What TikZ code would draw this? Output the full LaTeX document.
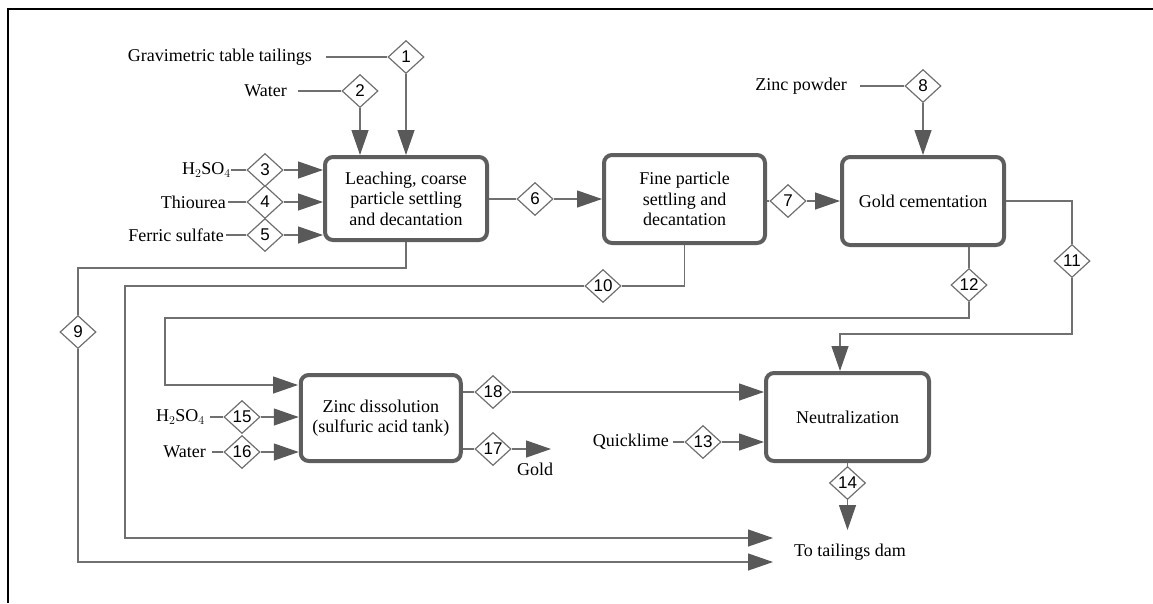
\documentclass[tikz,border=0pt]{standalone}
\usepackage{fontspec}
\setmainfont{Liberation Serif}
\newfontfamily\numfont{Liberation Sans}
\usetikzlibrary{arrows.meta,shapes.geometric}

\definecolor{linegray}{HTML}{707070}
\definecolor{boxgray}{HTML}{5E5E5E}
\definecolor{tipgray}{HTML}{595959}

\tikzset{
  unitbox/.style={draw=boxgray, line width=4pt, rounded corners=8pt, fill=white,
    align=center, inner sep=2pt, font=\fontsize{18}{20.5}\selectfont},
  stream/.style={diamond, draw=linegray, line width=1.2pt, fill=white,
    minimum width=36pt, minimum height=33pt, inner sep=0pt,
    font=\numfont\fontsize{17}{17}\selectfont},
  lbl/.style={inner ysep=2pt, font=\fontsize{18}{20}\selectfont},
  ln/.style={draw=linegray, line width=1.3pt},
  arr/.style={ln, -{Triangle[length=25pt, width=17pt, color=tipgray, fill=tipgray]}},
}

\begin{document}
\begin{tikzpicture}[x=1pt, y=-1pt]
\useasboundingbox (0,0) rectangle (1153,603);

% outer frame
\draw[line width=2pt, black] (8,603) -- (8,9) -- (1153,9);

% process units
\node[unitbox, minimum width=162pt, minimum height=83pt] (b1) at (406,198.5)
  {Leaching, coarse\\particle settling\\and decantation};
\node[unitbox, minimum width=161pt, minimum height=88pt] (b2) at (684.5,199)
  {Fine particle\\settling and\\decantation};
\node[unitbox, minimum width=162pt, minimum height=88pt] (b3) at (923,201)
  {Gold cementation};
\node[unitbox, minimum width=160pt, minimum height=86pt] (b4) at (380.75,418)
  {Zinc dissolution\\(sulfuric acid tank)};
\node[unitbox, minimum width=163pt, minimum height=88pt] (b5) at (847.5,417)
  {Neutralization};

% stream markers
\node[stream] (d1)  at (406,57)    {1};
\node[stream] (d2)  at (360,91)    {2};
\node[stream] (d3)  at (265,170)   {3};
\node[stream] (d4)  at (265,202)   {4};
\node[stream] (d5)  at (265,235)   {5};
\node[stream] (d6)  at (535,199)   {6};
\node[stream] (d7)  at (788,201)   {7};
\node[stream] (d8)  at (923,86)    {8};
\node[stream] (d9)  at (78,332)    {9};
\node[stream] (d10) at (603,286)   {10};
\node[stream] (d11) at (1072,261)  {11};
\node[stream] (d12) at (969,285)   {12};
\node[stream] (d13) at (703,442)   {13};
\node[stream] (d14) at (847.5,483) {14};
\node[stream] (d15) at (242,417)   {15};
\node[stream] (d16) at (242,452)   {16};
\node[stream] (d17) at (493,449)   {17};
\node[stream] (d18) at (493,392)   {18};

% feed labels
\node[lbl, anchor=east, inner xsep=14pt] (tGrav)  at (326,57)  {Gravimetric table tailings};
\node[lbl, anchor=east, inner xsep=11pt] (tWat)   at (298,91)  {Water};
\node[lbl, anchor=east, inner xsep=0pt]  (tAcid)  at (231,170) {H$_2$SO$_4$};
\node[lbl, anchor=east, inner xsep=2pt]  (tThio)  at (228,202) {Thiourea};
\node[lbl, anchor=east, inner xsep=2pt]  (tFer)   at (226,235) {Ferric sulfate};
\node[lbl, anchor=east, inner xsep=13pt] (tZinc)  at (860,86)  {Zinc powder};
\node[lbl, anchor=east, inner xsep=5pt]  (tAcidB) at (210,417) {H$_2$SO$_4$};
\node[lbl, anchor=east, inner xsep=6pt]  (tWatB)  at (212,452) {Water};
\node[lbl, anchor=east, inner xsep=4pt]  (tLime)  at (673,442) {Quicklime};
\node[lbl, inner sep=0pt] (tGold) at (535,469) {Gold};
\node[lbl, inner sep=0pt] (tDam)  at (850,552) {To tailings dam};

% connector end points
\coordinate (c9)   at (406,268);
\coordinate (c10)  at (125,286);
\coordinate (c11)  at (840,334);
\coordinate (c12)  at (165,318);
\coordinate (j12)  at (298,385);
\coordinate (e10)  at (773,538);
\coordinate (e9)   at (773,562);
\coordinate (e14)  at (847.5,530);
\coordinate (e17)  at (551,449);

% feeds to leaching
\draw[ln]  (tGrav.east) -- (d1.west);
\draw[arr] (d1.south) -- (b1.north);
\draw[ln]  (tWat.east) -- (d2.west);
\draw[arr] (d2.south) -- (d2.south |- b1.north);
\draw[ln]  (tAcid.east) -- (d3.west);
\draw[arr] (d3.east) -- (d3 -| b1.west);
\draw[ln]  (tThio.east) -- (d4.west);
\draw[arr] (d4.east) -- (d4 -| b1.west);
\draw[ln]  (tFer.east) -- (d5.west);
\draw[arr] (d5.east) -- (d5 -| b1.west);

% main line
\draw[ln]  (b1.east |- d6) -- (d6.west);
\draw[arr] (d6.east) -- (d6 -| b2.west);
\draw[ln]  (b2.east |- d7) -- (d7.west);
\draw[arr] (d7.east) -- (d7 -| b3.west);
\draw[ln]  (tZinc.east) -- (d8.west);
\draw[arr] (d8.south) -- (b3.north);

% solution 11 to neutralization
\draw[ln]  (b3.east) -| (d11.north);
\draw[arr] (d11.south) |- (c11) -- (c11 |- b5.north);

% stream 12 to zinc dissolution
\draw[ln]  (d12 |- b3.south) -- (d12.north);
\draw[arr] (d12.south) |- (c12) |- (j12);

% tailings streams 9 and 10
\draw[ln]  (b1.south) -- (c9) -| (d9.north);
\draw[arr] (d9.south) |- (e9);
\draw[ln]  (b2.south) |- (d10.east);
\draw[arr] (d10.west) -- (c10) |- (e10);

% zinc dissolution
\draw[ln]  (tAcidB.east) -- (d15.west);
\draw[arr] (d15.east) -- (d15 -| b4.west);
\draw[ln]  (tWatB.east) -- (d16.west);
\draw[arr] (d16.east) -- (d16 -| b4.west);
\draw[ln]  (b4.east |- d18) -- (d18.west);
\draw[arr] (d18.east) -- (d18 -| b5.west);
\draw[ln]  (b4.east |- d17) -- (d17.west);
\draw[arr] (d17.east) -- (e17);

% neutralization
\draw[ln]  (tLime.east) -- (d13.west);
\draw[arr] (d13.east) -- (d13 -| b5.west);
\draw[ln]  (b5.south) -- (d14.north);
\draw[arr] (d14.south) -- (e14);
\end{tikzpicture}
\end{document}
